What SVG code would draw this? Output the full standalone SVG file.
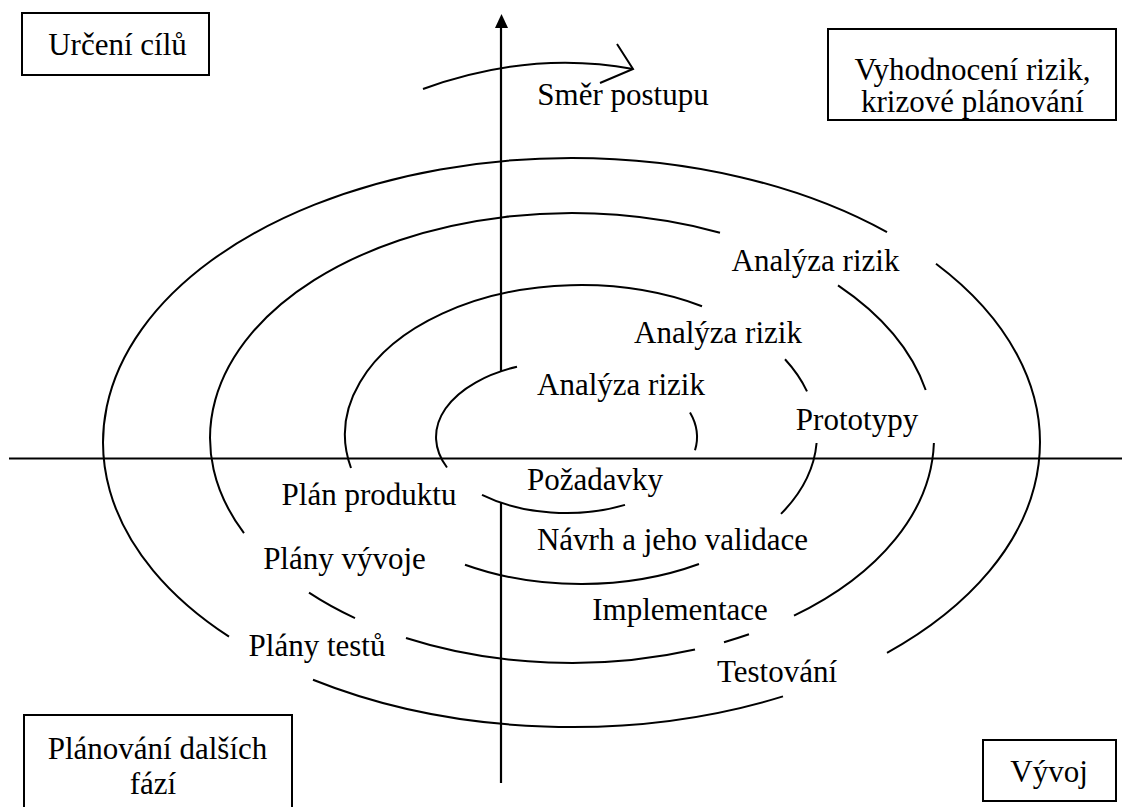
<svg xmlns="http://www.w3.org/2000/svg" width="1122" height="807" viewBox="0 0 1122 807">
<style>
.ln{fill:none;stroke:#000;stroke-width:2}
.ax{fill:none;stroke:#000;stroke-width:2.2}
.box{fill:#fff;stroke:#000;stroke-width:2}
text{font-family:"Liberation Serif","Times New Roman",serif;font-size:31px;fill:#000;text-anchor:middle}
</style>
<rect width="1122" height="807" fill="#fff"/>
<g id="connectors">
  <path class="ax" d="M501 27 V371.3"/>
  <polygon points="501.5,14 495,28 508,28" fill="#000"/>
  <path class="ax" d="M501 502.7 V783"/>
  <path class="ax" d="M9 458.5 H1122"/>
  <!-- loop 1 -->
  <path class="ln" d="M229 636.6 A468.5 284.5 0 0 1 571.5 158 A468.5 284.5 0 0 1 887 232.2"/>
  <path class="ln" d="M936 263.8 A468.5 284.5 0 0 1 887 652.8"/>
  <path class="ln" d="M783 696.4 A468.5 284.5 0 0 1 313 679.8"/>
  <!-- loop 2 -->
  <path class="ln" d="M244 533.2 A362 225 0 0 1 720 232.7"/>
  <path class="ln" d="M838 285.4 A362 225 0 0 1 925.7 390"/>
  <path class="ln" d="M933.9 443 A362 225 0 0 1 794 615.7"/>
  <path class="ln" d="M749 634.3 A362 225 0 0 1 724 642.2"/>
  <path class="ln" d="M695 649.6 A362 225 0 0 1 406 638"/>
  <path class="ln" d="M355 618.1 A362 225 0 0 1 309 592.6"/>
  <!-- loop 3 -->
  <path class="ln" d="M351 468 A236 149.5 0 0 1 702 306.2"/>
  <path class="ln" d="M785 359.3 A236 149.5 0 0 1 807 391.4"/>
  <path class="ln" d="M816.6 443 A236 149.5 0 0 1 781 513.9"/>
  <path class="ln" d="M699 564 A236 149.5 0 0 1 465 564.7"/>
  <!-- loop 4 -->
  <path class="ln" d="M447 467.5 A130.5 76 0 0 1 517 366.7"/>
  <path class="ln" d="M690 412.4 A130.5 76 0 0 1 695 450.2"/>
  <path class="ln" d="M625 504.9 A130.5 76 0 0 1 482 494.9"/>
  <!-- direction arrow -->
  <path class="ln" d="M423 89 Q530 50 633 69"/>
  <path class="ln" d="M617 44 L633 69 L600 83"/>
</g>
<g id="box-urceni-cilu">
  <rect class="box" x="22" y="13" width="187" height="62"/>
  <text x="117.5" y="55">Určení cílů</text>
</g>
<g id="box-vyhodnoceni-rizik">
  <rect class="box" x="828" y="29" width="288" height="91"/>
  <text x="972.5" y="80">Vyhodnocení rizik,</text>
  <text x="972.5" y="112">krizové plánování</text>
</g>
<g id="box-planovani">
  <rect class="box" x="24" y="715" width="268" height="100"/>
  <text x="157.5" y="759">Plánování dalších</text>
  <text x="153" y="794">fází</text>
</g>
<g id="box-vyvoj">
  <rect class="box" x="983" y="740" width="133" height="61"/>
  <text x="1049" y="782">Vývoj</text>
</g>
<g id="label-smer"><text x="623" y="105">Směr postupu</text></g>
<g id="label-analyza-1"><text x="815.5" y="271">Analýza rizik</text></g>
<g id="label-analyza-2"><text x="718" y="343">Analýza rizik</text></g>
<g id="label-analyza-3"><text x="621" y="395">Analýza rizik</text></g>
<g id="label-prototypy"><text x="857" y="430">Prototypy</text></g>
<g id="label-pozadavky"><text x="595" y="490">Požadavky</text></g>
<g id="label-plan-produktu"><text x="369" y="505">Plán produktu</text></g>
<g id="label-navrh"><text x="672.5" y="550">Návrh a jeho validace</text></g>
<g id="label-plany-vyvoje"><text x="344.5" y="569">Plány vývoje</text></g>
<g id="label-implementace"><text x="680" y="620">Implementace</text></g>
<g id="label-plany-testu"><text x="317" y="656">Plány testů</text></g>
<g id="label-testovani"><text x="777" y="682">Testování</text></g>
</svg>
